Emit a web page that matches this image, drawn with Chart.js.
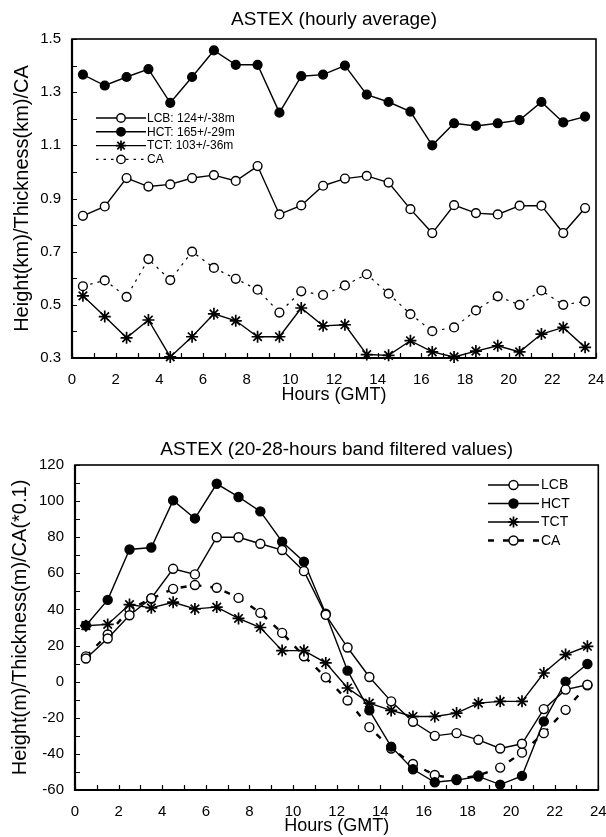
<!DOCTYPE html>
<html>
<head>
<meta charset="utf-8">
<script src="https://cdn.jsdelivr.net/npm/chart.js@4.4.1/dist/chart.umd.min.js"></script>
<style>
  html, body { margin: 0; padding: 0; background: #fff; }
  #wrap { position: relative; width: 606px; height: 837px; overflow: hidden; background: #fff; }
  canvas { position: absolute; left: 0; }
  #c1 { top: 0; }
  #c2 { top: 410px; }
</style>
</head>
<body>
<div id="wrap">
  <canvas id="c1" width="606" height="410"></canvas>
  <canvas id="c2" width="606" height="427"></canvas>
</div>
<script>
// ---------- data ----------
const hours = [0.5, 1.5, 2.5, 3.5, 4.5, 5.5, 6.5, 7.5, 8.5, 9.5, 10.5, 11.5,
               12.5, 13.5, 14.5, 15.5, 16.5, 17.5, 18.5, 19.5, 20.5, 21.5, 22.5, 23.5];

// Top panel: hourly average (km / CA)
const lcbAvg = [0.835, 0.870, 0.977, 0.945, 0.953, 0.977, 0.988, 0.966, 1.022, 0.840, 0.874, 0.948,
                0.975, 0.985, 0.960, 0.860, 0.770, 0.875, 0.845, 0.840, 0.873, 0.873, 0.770, 0.864];
const hctAvg = [1.366, 1.325, 1.357, 1.387, 1.260, 1.357, 1.457, 1.403, 1.403, 1.223, 1.360, 1.366,
                1.400, 1.291, 1.263, 1.227, 1.100, 1.183, 1.173, 1.183, 1.195, 1.263, 1.186, 1.208];
const tctAvg = [0.534, 0.456, 0.376, 0.443, 0.304, 0.380, 0.466, 0.440, 0.380, 0.380, 0.488, 0.421,
                0.425, 0.313, 0.310, 0.365, 0.323, 0.304, 0.326, 0.346, 0.323, 0.390, 0.415, 0.340];
const caAvg  = [0.570, 0.592, 0.530, 0.672, 0.593, 0.700, 0.639, 0.598, 0.557, 0.471, 0.551, 0.537,
                0.573, 0.615, 0.542, 0.465, 0.401, 0.415, 0.479, 0.532, 0.500, 0.554, 0.500, 0.513];
const topLabels = ['LCB: 124+/-38m', 'HCT: 165+/-29m', 'TCT: 103+/-36m', 'CA'];

// Bottom panel: 20-28 hours band filtered values (m / CA*0.1)
const lcbBand = [12.8, 23.9, 36.8, 46.2, 62.5, 59.4, 80.0, 80.0, 76.4, 72.9, 61.2, 37.0,
                 18.9, 2.6, -10.9, -22.2, -30.0, -28.5, -32.2, -37.0, -34.4, -15.2, -4.4, -1.7];
const hctBand = [31.1, 45.3, 73.2, 74.3, 100.4, 90.4, 109.6, 102.3, 94.3, 77.5, 66.4, 37.6,
                 6.1, -15.9, -36.0, -48.5, -55.7, -54.5, -52.5, -57.0, -52.2, -22.0, 0.0, 9.8];
const tctBand = [31.0, 31.7, 42.7, 40.9, 44.0, 40.3, 41.3, 35.0, 30.0, 17.2, 17.2, 10.4,
                 -3.5, -11.9, -15.9, -19.3, -19.3, -17.4, -11.9, -10.9, -10.9, 4.8, 15.0, 19.6];
const caBand  = [14.0, 26.1, 40.0, 46.0, 51.4, 53.5, 52.0, 46.4, 38.1, 27.0, 14.1, 2.4,
                 -10.4, -25.2, -37.0, -45.6, -51.7, -54.0, -52.0, -47.6, -39.3, -28.5, -15.6, -2.0];
const bottomLabels = ['LCB', 'HCT', 'TCT', 'CA'];

// tick settings
const topYMin = 0.3, topYMax = 1.5, topYStep = 0.1;
const botYMin = -60, botYMax = 120, botYStep = 10;
const xMin = 0, xMax = 24, xStep = 1;

// ---------- helpers ----------
const FONT = '"Liberation Sans", Arial, Helvetica, sans-serif';
function pts(ys) { return hours.map((h, i) => ({ x: h, y: ys[i] })); }

function drawMarker(ctx, style, x, y, r, fill, bw) {
  ctx.save();
  ctx.setLineDash([]);
  ctx.lineWidth = bw;
  ctx.strokeStyle = '#000';
  if (style === 'star') {
    const d = r * Math.SQRT1_2;
    ctx.beginPath();
    ctx.moveTo(x - r, y); ctx.lineTo(x + r, y);
    ctx.moveTo(x, y - r); ctx.lineTo(x, y + r);
    ctx.moveTo(x - d, y - d); ctx.lineTo(x + d, y + d);
    ctx.moveTo(x - d, y + d); ctx.lineTo(x + d, y - d);
    ctx.stroke();
  } else {
    ctx.beginPath();
    ctx.arc(x, y, r, 0, Math.PI * 2);
    ctx.fillStyle = fill;
    ctx.fill();
    ctx.stroke();
  }
  ctx.restore();
}

const lineLegend = {
  id: 'lineLegend',
  afterDraw(chart, args, o) {
    if (!o || !o.display) return;
    const ctx = chart.ctx;
    ctx.save();
    ctx.font = o.font;
    ctx.textBaseline = 'middle';
    ctx.textAlign = 'left';
    chart.data.datasets.forEach((ds, i) => {
      const y = o.y + i * o.rowH;
      const x0 = o.x, x1 = o.x + o.lineLen, xm = (x0 + x1) / 2;
      ctx.beginPath();
      ctx.setLineDash(ds.borderDash || []);
      ctx.lineWidth = ds.borderWidth;
      ctx.strokeStyle = '#000';
      ctx.moveTo(x0, y); ctx.lineTo(x1, y);
      ctx.stroke();
      ctx.setLineDash([]);
      const r = ds.pointStyle === 'star' ? o.r + 1 : o.r;
      drawMarker(ctx, ds.pointStyle, xm, y, r, ds.pointBackgroundColor, ds.pointBorderWidth);
      ctx.fillStyle = '#000';
      ctx.fillText(ds.label, x1 + o.gap, y + 0.5);
    });
    ctx.restore();
  }
};

const frame = {
  id: 'frame',
  beforeDatasetsDraw(chart) {
    const { ctx, chartArea: a, scales } = chart;
    ctx.save();
    ctx.strokeStyle = '#000';
    ctx.setLineDash([]);
    // ticks pointing inward
    ctx.lineWidth = 1.2;
    ctx.beginPath();
    scales.x.ticks.forEach(t => {
      const px = Math.round(scales.x.getPixelForValue(t.value)) + 0.5;
      ctx.moveTo(px, a.bottom); ctx.lineTo(px, a.bottom - 5);
    });
    scales.y.ticks.forEach(t => {
      const py = Math.round(scales.y.getPixelForValue(t.value)) + 0.5;
      ctx.moveTo(a.left, py); ctx.lineTo(a.left + 5, py);
    });
    ctx.stroke();
    // box
    ctx.lineWidth = 1.6;
    ctx.strokeRect(a.left, a.top, a.right - a.left, a.bottom - a.top);
    ctx.lineWidth = 2.2;
    ctx.beginPath();
    ctx.moveTo(a.left, a.top); ctx.lineTo(a.left, a.bottom); ctx.lineTo(a.right, a.bottom);
    ctx.stroke();
    ctx.restore();
  }
};

function lineDs(label, ys, style, fill, dash, width, radius) {
  return {
    label, data: pts(ys), showLine: true,
    borderColor: '#000', borderWidth: width, borderDash: dash,
    pointStyle: style, pointRadius: radius, pointHoverRadius: radius,
    pointBackgroundColor: fill, pointBorderColor: '#000',
    pointBorderWidth: style === 'star' ? 1.7 : 1.4,
    tension: 0, clip: false
  };
}

function makeScales(yMin, yMax, yStep, yLabelFn, yTitle, yWidth, xHeight, xTitlePadBottom, yTitlePad) {
  const zeroPad = s => { s.paddingLeft = 0; s.paddingRight = 0; s.paddingTop = 0; s.paddingBottom = 0; };
  return {
    x: {
      type: 'linear', min: xMin, max: xMax,
      ticks: {
        stepSize: xStep, autoSkip: false, maxRotation: 0, padding: 13,
        color: '#000', font: { family: FONT, size: 15 },
        callback: v => (Math.round(v) % 2 === 0 ? String(Math.round(v)) : '')
      },
      grid: { display: false, drawTicks: false },
      border: { display: false },
      title: { display: true, text: 'Hours (GMT)', color: '#000',
               font: { family: FONT, size: 18 }, padding: { top: 0, bottom: xTitlePadBottom } },
      afterFit: s => { s.height = xHeight; zeroPad(s); }
    },
    y: {
      type: 'linear', min: yMin, max: yMax,
      ticks: {
        stepSize: yStep, autoSkip: false, padding: 11,
        color: '#000', font: { family: FONT, size: 15 },
        callback: yLabelFn
      },
      grid: { display: false, drawTicks: false },
      border: { display: false },
      title: { display: true, text: yTitle, color: '#000',
               font: { family: FONT, size: 20 }, padding: { top: yTitlePad, bottom: 0 } },
      afterFit: s => { s.width = yWidth; zeroPad(s); }
    }
  };
}

// ---------- top chart ----------
new Chart(document.getElementById('c1'), {
  type: 'scatter',
  data: {
    datasets: [
      lineDs(topLabels[0], lcbAvg, 'circle', '#fff', [], 1.4, 4.4),
      lineDs(topLabels[1], hctAvg, 'circle', '#000', [], 1.4, 4.4),
      lineDs(topLabels[2], tctAvg, 'star', '#000', [], 1.4, 6),
      lineDs(topLabels[3], caAvg, 'circle', '#fff', [2.5, 5], 1.2, 4.4)
    ]
  },
  options: {
    responsive: false, animation: false, devicePixelRatio: 1,
    layout: { padding: { left: 0, right: 10, top: 0, bottom: 0 } },
    scales: makeScales(topYMin, topYMax, topYStep,
      v => (Math.round(v * 10) % 2 === 1 ? v.toFixed(1) : ''),
      'Height(km)/Thickness(km)/CA', 72, 52, 4, 10),
    plugins: {
      legend: { display: false },
      tooltip: { enabled: false },
      title: { display: true, fullSize: false, text: 'ASTEX (hourly average)', color: '#000',
               font: { family: FONT, size: 19, weight: 'normal' }, padding: { top: 8.6, bottom: 7.6 } },
      lineLegend: { display: true, x: 96, y: 118, rowH: 13.8, lineLen: 50, r: 4.2, gap: 1,
                    font: '12px ' + FONT }
    }
  },
  plugins: [frame, lineLegend]
});

// ---------- bottom chart ----------
new Chart(document.getElementById('c2'), {
  type: 'scatter',
  data: {
    datasets: [
      lineDs(bottomLabels[0], lcbBand, 'circle', '#fff', [], 1.4, 4.5),
      lineDs(bottomLabels[1], hctBand, 'circle', '#000', [], 1.4, 4.5),
      lineDs(bottomLabels[2], tctBand, 'star', '#000', [], 1.4, 6),
      lineDs(bottomLabels[3], caBand, 'circle', '#fff', [6, 9], 2.4, 4.5)
    ]
  },
  options: {
    responsive: false, animation: false, devicePixelRatio: 1,
    layout: { padding: { left: 0, right: 4, top: 0, bottom: 0 } },
    scales: makeScales(botYMin, botYMax, botYStep,
      v => (Math.round(v) % 20 === 0 ? String(Math.round(v)) : ''),
      'Height(m)/Thickness(m)/CA(*0.1)', 75, 47, 0, 8),
    plugins: {
      legend: { display: false },
      tooltip: { enabled: false },
      title: { display: true, fullSize: false, text: 'ASTEX (20-28-hours band filtered values)', color: '#000',
               font: { family: FONT, size: 19, weight: 'normal' }, padding: { top: 28.6, bottom: 3.6 } },
      lineLegend: { display: true, x: 488, y: 75, rowH: 18.5, lineLen: 51, r: 4.5, gap: 2,
                    font: '14px ' + FONT }
    }
  },
  plugins: [frame, lineLegend]
});
</script>
</body>
</html>
